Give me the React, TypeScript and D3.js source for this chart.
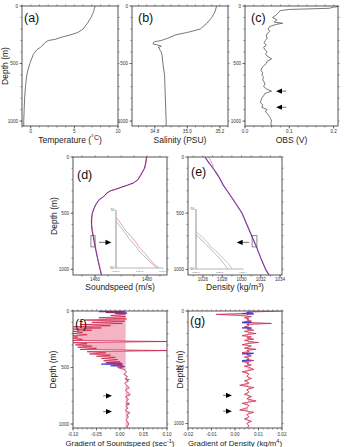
import React from 'react'
import * as d3 from 'd3'

// ---- profile data (depth in m) ----
const DEPTH_T = [0, 20, 50, 100, 150, 200, 230, 250, 270, 290, 300, 320, 340, 360, 380, 420, 460, 500, 550, 600, 700, 800, 900, 1000, 1045]
const TEMP = [7.4, 7.3, 7.2, 6.9, 6.5, 6.0, 5.4, 4.6, 3.6, 2.8, 2.0, 1.6, 1.4, 1.1, 0.7, 0.3, 0.1, -0.1, -0.3, -0.45, -0.6, -0.7, -0.75, -0.8, -0.8]

const DEPTH_S = [0, 50, 100, 150, 200, 230, 250, 280, 300, 310, 320, 330, 340, 350, 360, 370, 380, 400, 430, 500, 600, 800, 1000, 1045]
const SAL = [35.18, 35.17, 35.15, 35.12, 35.08, 35.0, 34.93, 34.88, 34.84, 34.8, 34.79, 34.79, 34.82, 34.84, 34.82, 34.83, 34.83, 34.84, 34.845, 34.85, 34.86, 34.865, 34.87, 34.87]

const DEPTH_OBS = [0, 5, 10, 20, 30, 40, 60, 80, 100, 120, 140, 150, 160, 180, 200, 220, 240, 260, 280, 300, 320, 340, 360, 380, 400, 420, 440, 460, 480, 500, 520, 540, 560, 580, 600, 620, 640, 660, 680, 700, 720, 740, 760, 780, 800, 820, 840, 860, 880, 900, 920, 940, 960, 980, 1000, 1020, 1045]
const OBS = [0.205, 0.21, 0.2, 0.19, 0.1, 0.08, 0.075, 0.07, 0.062, 0.072, 0.066, 0.085, 0.07, 0.055, 0.052, 0.056, 0.05, 0.048, 0.05, 0.046, 0.043, 0.048, 0.042, 0.045, 0.05, 0.046, 0.052, 0.06, 0.05, 0.048, 0.042, 0.038, 0.036, 0.04, 0.038, 0.042, 0.04, 0.043, 0.045, 0.042, 0.048, 0.06, 0.045, 0.042, 0.038, 0.036, 0.035, 0.04, 0.038, 0.05, 0.046, 0.052, 0.055, 0.058, 0.06, 0.058, 0.062]

const DEPTH_C = [0, 50, 100, 150, 200, 230, 250, 270, 290, 300, 320, 340, 360, 380, 420, 460, 500, 550, 600, 650, 700, 800, 900, 1000, 1050]
const SOUND = [1479.8, 1479.5, 1479.0, 1477.8, 1476.5, 1474.8, 1472.5, 1470.0, 1467.5, 1466.0, 1464.5, 1463.8, 1462.8, 1461.5, 1460.3, 1459.5, 1458.9, 1458.6, 1458.6, 1458.8, 1459.2, 1460.0, 1460.9, 1461.9, 1462.4]

const DEPTH_D = [0, 50, 100, 150, 200, 250, 300, 400, 500, 600, 700, 800, 900, 1000, 1050]
const DENS = [1026.2, 1026.6, 1027.05, 1027.45, 1027.8, 1028.1, 1028.5, 1029.3, 1030.05, 1030.55, 1031.05, 1031.55, 1032.0, 1032.5, 1032.85]
const DEPTH_D_TOP = [0, 30, 60, 90]
const DENS_RED_TOP = [1026.6, 1026.8, 1026.95, 1027.1]

// zoom boxes and inset profiles
const ZOOM_DEPTH = [700, 800]
const ZOOM_C = [1458.4, 1460.0]
const ZOOM_D = [1031.1, 1031.6]
const INSET_C_X = [1459.0, 1459.6]
const INSET_C_TICKS = [1459.0, 1459.3, 1459.6]
const IC_RED_DEPTH = [714, 725, 735, 745, 755, 765, 775, 785, 795, 800]
const IC_RED = [1459.01, 1459.07, 1459.12, 1459.19, 1459.25, 1459.3, 1459.37, 1459.43, 1459.5, 1459.55]
const IC_GRAY_DEPTH = [721, 730, 740, 750, 760, 770, 780, 790, 800]
const IC_GRAY = [1459.01, 1459.06, 1459.12, 1459.17, 1459.24, 1459.29, 1459.36, 1459.44, 1459.52]
const INSET_D_X = [1031.0, 1031.4]
const INSET_D_TICKS = [1031.0, 1031.2, 1031.4]
const ID_RED_DEPTH = [738, 746, 756, 762, 770, 780, 790, 800]
const ID_RED = [1031.0, 1031.05, 1031.1, 1031.12, 1031.17, 1031.22, 1031.27, 1031.31]
const ID_BLUE_DEPTH = [743, 752, 762, 772, 782, 792, 800]
const ID_BLUE = [1031.0, 1031.05, 1031.1, 1031.15, 1031.2, 1031.24, 1031.27]

// gradients
const DEPTH_G = [0, 10, 20, 30, 40, 50, 60, 70, 80, 90, 100, 110, 120, 130, 140, 150, 160, 170, 180, 190, 200, 210, 220, 230, 240, 250, 260, 270, 280, 290, 300, 310, 320, 330, 340, 350, 360, 370, 380, 390, 400, 410, 420, 430, 440, 450, 460, 470, 480, 490, 500, 520, 540, 560, 580, 600, 620, 640, 660, 680, 700, 720, 740, 760, 780, 800, 820, 840, 860, 880, 900, 920, 940, 960, 980, 1000, 1020, 1040]
const GRAD_C = [0.012, -0.03, 0.015, 0.005, -0.02, 0.012, -0.045, 0.014, -0.075, 0.01, -0.06, 0.005, -0.085, -0.02, -0.1, -0.04, -0.1, -0.06, -0.1, -0.08, -0.1, -0.07, -0.1, -0.09, -0.1, -0.08, -0.1, 0.1, -0.1, -0.07, -0.095, -0.06, -0.09, -0.05, -0.085, 0.1, -0.07, -0.03, -0.065, -0.02, -0.05, -0.01, -0.04, -0.005, -0.035, 0.0, -0.03, 0.005, -0.015, 0.008, -0.005, 0.01, 0.014, 0.008, 0.016, 0.012, 0.018, 0.01, 0.015, 0.02, 0.011, 0.017, 0.022, 0.012, 0.018, 0.014, 0.02, 0.013, 0.017, 0.011, 0.021, 0.015, 0.018, 0.013, 0.016, 0.019, 0.015, 0.017]
const GRAD_D = [0.02, 0.005, 0.006, -0.008, 0.002, 0.007, 0.004, 0.006, 0.005, 0.007, 0.003, 0.0155, 0.005, 0.006, 0.004, 0.007, 0.005, 0.008, 0.004, 0.006, 0.009, 0.005, 0.003, 0.007, 0.005, 0.008, 0.004, 0.006, 0.01, 0.005, 0.003, 0.007, 0.006, 0.004, 0.009, 0.005, 0.006, 0.003, 0.006, 0.005, 0.007, 0.004, 0.006, 0.005, 0.008, 0.003, 0.006, 0.005, 0.007, 0.004, 0.006, 0.008, 0.003, 0.006, 0.005, 0.007, 0.004, 0.006, 0.002, 0.008, 0.005, 0.006, 0.004, 0.007, 0.005, 0.009, 0.003, 0.006, 0.005, 0.002, 0.008, 0.005, 0.006, 0.004, 0.007, 0.005, 0.006, 0.005]
const GRAD_C_MEAN = 0.012
const GRAD_D_MEAN = 0.0055
const BLUE_C_DEPTH = [2, 6, 10, 14, 18, 22, 26, 30, 455, 462, 470, 478, 485, 492, 500, 505, 600, 608, 616, 820, 828, 836]
const BLUE_C = [0.008, -0.045, 0.01, -0.03, 0.014, -0.01, 0.012, null, -0.03, 0.004, -0.04, 0.006, -0.02, 0.01, 0.0, null, 0.01, 0.02, null, 0.012, 0.02, null]
const BLUE_D_DEPTH = [14, 18, 22, 26, 30, 34, 96, 100, 104, 108, 112, 146, 150, 154, 158, 372, 376, 380, 384, 388, 436, 440, 444, 448]
const BLUE_D = [0.005, 0.0075, 0.003, 0.008, 0.005, null, 0.004, 0.007, 0.003, 0.006, null, 0.006, 0.003, 0.007, null, 0.005, 0.008, 0.003, 0.007, null, 0.006, 0.003, 0.007, null]

const ARROW_DEPTHS = [740, 880]
const ARROW_DEPTHS_G = [750, 890]

const FONT = "'Liberation Sans', Arial, Helvetica, sans-serif"
const RED = '#c8163c'
const PINK = '#f2a7ba'
const BLUE = '#3b3bd6'
const AX = '#444'

type Sc = d3.ScaleLinear<number, number>

function profile(x: Sc, y: Sc, depth: number[], vals: (number | null)[]) {
  const pts = depth.map((d, i) => [d, vals[i]] as [number, number | null])
  return d3.line<[number, number | null]>()
    .defined(p => p[1] != null)
    .x(p => x(p[1] as number))
    .y(p => y(p[0]))(pts) || ''
}

function band(x: Sc, y: Sc, depth: number[], vals: number[], mean: number) {
  const pts = depth.map((d, i) => [d, vals[i]] as [number, number])
  return d3.area<[number, number]>()
    .y(p => y(p[0]))
    .x0(() => x(mean))
    .x1(p => x(p[1]))(pts) || ''
}

function Arrow({ x1, x2, y }: { x1: number; x2: number; y: number }) {
  // x1 = tail, x2 = tip
  const dir = x2 > x1 ? 1 : -1
  const base = x2 - dir * 6
  return (
    <g>
      <line x1={x1} x2={base} y1={y} y2={y} stroke="#888" strokeWidth={1.2} />
      <path d={`M${x2},${y} L${base},${y - 2.6} L${base},${y + 2.6} Z`} fill="#000" />
    </g>
  )
}

type PanelProps = {
  id: string
  x0: number; x1: number; y0: number; y1: number
  xDomain: [number, number]
  depthMax: number
  xTicks: number[]
  xStep: number
  xFmt: (v: number) => string
  tickDy: number
  tag: string
  tagX: number
  tagY: number
  title: React.ReactNode
  titleY: number
  titleSize: number
  depthX?: number
  render: (x: Sc, y: Sc) => React.ReactNode
  overlay?: (x: Sc, y: Sc) => React.ReactNode
}

function Panel(p: PanelProps) {
  const x = d3.scaleLinear().domain(p.xDomain).range([p.x0, p.x1])
  const y = d3.scaleLinear().domain([0, p.depthMax]).range([p.y0, p.y1])
  const minorX = d3.range(Math.ceil(p.xDomain[0] / p.xStep - 1e-6), Math.floor(p.xDomain[1] / p.xStep + 1e-6) + 1).map(k => k * p.xStep)
  const minorY = d3.range(0, p.depthMax + 1, 100)
  const yTicks = [0, 500, 1000]
  return (
    <g>
      <defs>
        <clipPath id={p.id}>
          <rect x={p.x0} y={p.y0} width={p.x1 - p.x0} height={p.y1 - p.y0} />
        </clipPath>
      </defs>
      <g clipPath={`url(#${p.id})`}>{p.render(x, y)}</g>
      <rect x={p.x0} y={p.y0} width={p.x1 - p.x0} height={p.y1 - p.y0} fill="none" stroke={AX} strokeWidth={0.9} />
      {minorX.map((v, i) => (
        <g key={'mx' + i} stroke={AX} strokeWidth={0.6}>
          <line x1={x(v)} x2={x(v)} y1={p.y1} y2={p.y1 + 1.5} />
          <line x1={x(v)} x2={x(v)} y1={p.y0} y2={p.y0 - 1.5} />
        </g>
      ))}
      {minorY.map((v, i) => (
        <g key={'my' + i} stroke={AX} strokeWidth={0.6}>
          <line x1={p.x0} x2={p.x0 - 1.5} y1={y(v)} y2={y(v)} />
          <line x1={p.x1} x2={p.x1 + 1.5} y1={y(v)} y2={y(v)} />
        </g>
      ))}
      {p.xTicks.map((v, i) => (
        <g key={'xt' + i}>
          <line x1={x(v)} x2={x(v)} y1={p.y1} y2={p.y1 + 2.5} stroke={AX} strokeWidth={0.7} />
          <text x={x(v)} y={p.y1 + p.tickDy} fontSize={4.6} textAnchor="middle" fill="#333">{p.xFmt(v)}</text>
        </g>
      ))}
      {yTicks.map((v, i) => (
        <g key={'yt' + i}>
          <line x1={p.x0} x2={p.x0 - 2.5} y1={y(v)} y2={y(v)} stroke={AX} strokeWidth={0.7} />
          <text x={p.x0 - 4} y={y(v) + 1.6} fontSize={4.6} textAnchor="end" fill="#333">{v}</text>
        </g>
      ))}
      {p.overlay && p.overlay(x, y)}
      <text x={p.tagX} y={p.tagY} fontSize={12.5} fill="#111">{p.tag}</text>
      <text x={(p.x0 + p.x1) / 2} y={p.titleY} fontSize={p.titleSize} textAnchor="middle" fill="#222">{p.title}</text>
      {p.depthX != null && (
        <text transform={`translate(${p.depthX},${(p.y0 + p.y1) / 2}) rotate(-90)`} fontSize={8.5} textAnchor="middle" fill="#222">Depth (m)</text>
      )}
    </g>
  )
}

function Inset({ x0, x1, y0, y1, xDomain, xTicks, lines }: {
  x0: number; x1: number; y0: number; y1: number
  xDomain: number[]; xTicks: number[]
  lines: { depth: number[]; vals: number[]; color: string }[]
}) {
  const x = d3.scaleLinear().domain(xDomain).range([x0, x1])
  const y = d3.scaleLinear().domain(ZOOM_DEPTH).range([y0, y1])
  return (
    <g>
      <line x1={x0} x2={x0} y1={y0} y2={y1} stroke="#bbb" strokeWidth={1.6} />
      <line x1={x0} x2={x1} y1={y1} y2={y1} stroke="#888" strokeWidth={0.6} />
      {ZOOM_DEPTH.map(v => (
        <text key={v} x={x0 - 1.5} y={y(v) + 1} fontSize={2.6} textAnchor="end" fill="#666">{v}</text>
      ))}
      {xTicks.map(v => (
        <g key={v}>
          <line x1={x(v)} x2={x(v)} y1={y1} y2={y1 + 1} stroke="#888" strokeWidth={0.4} />
          <text x={x(v)} y={y1 + 3.6} fontSize={2.4} textAnchor="middle" fill="#666">{v.toFixed(1)}</text>
        </g>
      ))}
      {lines.map((l, i) => (
        <path key={i} d={profile(x, y, l.depth, l.vals)} fill="none" stroke={l.color} strokeWidth={0.6} />
      ))}
    </g>
  )
}

export default function App() {
  return (
    <svg width={344} height={447} style={{ position: 'absolute', left: 0, top: 0, fontFamily: FONT, background: '#fff' }}>
      <rect width={344} height={447} fill="#fff" />
      {/* (a) temperature */}
      <Panel id="ca" x0={22} x1={118} y0={6} y1={126} xDomain={[-1, 10]} depthMax={1043}
        xTicks={[0, 5, 10]} xStep={1} xFmt={v => String(v)} tickDy={7} tag="(a)" tagX={24} tagY={22}
        title={<>Temperature (<tspan dy={-3} fontSize={7}>°C</tspan><tspan dy={3}>)</tspan></>} titleY={143} titleSize={8.5} depthX={7.5}
        render={(x, y) => <path d={profile(x, y, DEPTH_T, TEMP)} fill="none" stroke="#555" strokeWidth={0.8} />} />
      {/* (b) salinity */}
      <Panel id="cb" x0={132} x1={228} y0={6} y1={126} xDomain={[34.66, 35.25]} depthMax={1043}
        xTicks={[34.8, 35.0, 35.2]} xStep={0.05} xFmt={v => v.toFixed(1)} tickDy={7} tag="(b)" tagX={138} tagY={22}
        title="Salinity (PSU)" titleY={143} titleSize={8.5}
        render={(x, y) => <path d={profile(x, y, DEPTH_S, SAL)} fill="none" stroke="#555" strokeWidth={0.8} />} />
      {/* (c) OBS */}
      <Panel id="cc" x0={245} x1={338} y0={6} y1={126} xDomain={[0, 0.21]} depthMax={1043}
        xTicks={[0, 0.1, 0.2]} xStep={0.02} xFmt={v => v.toFixed(1)} tickDy={7} tag="(c)" tagX={251} tagY={22}
        title="OBS (V)" titleY={143} titleSize={8.5}
        render={(x, y) => <path d={profile(x, y, DEPTH_OBS, OBS)} fill="none" stroke="#555" strokeWidth={0.8} />}
        overlay={(x, y) => ARROW_DEPTHS.map(d => <Arrow key={d} x1={x(0.093)} x2={x(0.07)} y={y(d)} />)} />
      {/* (d) soundspeed */}
      <Panel id="cd" x0={73} x1={167} y0={157} y1={275} xDomain={[1451.5, 1487.7]} depthMax={1050}
        xTicks={[1460, 1480]} xStep={5} xFmt={v => String(v)} tickDy={6} tag="(d)" tagX={77} tagY={179}
        title="Soundspeed (m/s)" titleY={290} titleSize={8.5} depthX={57}
        render={(x, y) => (
          <g>
            <path d={profile(x, y, DEPTH_C, SOUND)} fill="none" stroke="#5a3cc0" strokeWidth={1} />
            <path d={profile(x, y, DEPTH_C, SOUND)} fill="none" stroke={RED} strokeWidth={0.8} opacity={0.7} transform="translate(0.4,0)" />
          </g>
        )}
        overlay={(x, y) => (
          <g>
            <rect x={x(ZOOM_C[0])} y={y(ZOOM_DEPTH[0])} width={x(ZOOM_C[1]) - x(ZOOM_C[0])} height={y(ZOOM_DEPTH[1]) - y(ZOOM_DEPTH[0])} fill="none" stroke="#555" strokeWidth={0.7} />
            <Arrow x1={x(1461.5)} x2={x(1466.3)} y={y(760)} />
            <Inset x0={116} x1={163} y0={210} y1={268} xDomain={INSET_C_X} xTicks={INSET_C_TICKS}
              lines={[{ depth: IC_GRAY_DEPTH, vals: IC_GRAY, color: '#9090a8' }, { depth: IC_RED_DEPTH, vals: IC_RED, color: '#d9607a' }]} />
          </g>
        )} />
      {/* (e) density */}
      <Panel id="ce" x0={188} x1={282} y0={157} y1={275} xDomain={[1024.45, 1034.2]} depthMax={1050}
        xTicks={[1026, 1028, 1030, 1032, 1034]} xStep={1} xFmt={v => String(v)} tickDy={6} tag="(e)" tagX={191} tagY={176}
        title={<>Density (kg/m<tspan dy={-3} fontSize={5.5}>3</tspan><tspan dy={3}>)</tspan></>} titleY={290} titleSize={8.5}
        render={(x, y) => (
          <g>
            <path d={profile(x, y, DEPTH_D_TOP, DENS_RED_TOP)} fill="none" stroke={RED} strokeWidth={0.6} opacity={0.7} />
            <path d={profile(x, y, DEPTH_D, DENS)} fill="none" stroke="#6a3ab8" strokeWidth={1.1} />
            <path d={profile(x, y, DEPTH_D, DENS)} fill="none" stroke={RED} strokeWidth={0.6} opacity={0.5} transform="translate(0.3,0)" />
          </g>
        )}
        overlay={(x, y) => (
          <g>
            <rect x={x(ZOOM_D[0])} y={y(ZOOM_DEPTH[0])} width={x(ZOOM_D[1]) - x(ZOOM_D[0])} height={y(ZOOM_DEPTH[1]) - y(ZOOM_DEPTH[0])} fill="none" stroke="#555" strokeWidth={0.7} />
            <Arrow x1={x(1030.8)} x2={x(1029.5)} y={y(760)} />
            <Inset x0={196} x1={243} y0={209} y1={269} xDomain={INSET_D_X} xTicks={INSET_D_TICKS}
              lines={[{ depth: ID_BLUE_DEPTH, vals: ID_BLUE, color: '#8a8ab0' }, { depth: ID_RED_DEPTH, vals: ID_RED, color: '#c88aa0' }]} />
          </g>
        )} />
      {/* (f) gradient of soundspeed */}
      <Panel id="cf" x0={73} x1={167} y0={311} y1={428} xDomain={[-0.1, 0.1]} depthMax={1035}
        xTicks={[-0.1, -0.05, 0, 0.05, 0.1]} xStep={0.01} xFmt={v => v.toFixed(2)} tickDy={8} tag="(f)" tagX={75} tagY={328}
        title={<>Gradient of Soundspeed (sec<tspan dy={-3} fontSize={5.5}>-1</tspan><tspan dy={3}>)</tspan></>} titleY={446} titleSize={7.8} depthX={56}
        render={(x, y) => (
          <g>
            <path d={band(x, y, DEPTH_G, GRAD_C, GRAD_C_MEAN)} fill={PINK} opacity={0.85} />
            <path d={profile(x, y, BLUE_C_DEPTH, BLUE_C)} fill="none" stroke={BLUE} strokeWidth={0.8} />
            <path d={profile(x, y, DEPTH_G, GRAD_C)} fill="none" stroke={RED} strokeWidth={0.7} />
          </g>
        )}
        overlay={(x, y) => ARROW_DEPTHS_G.map(d => <Arrow key={d} x1={x(-0.036)} x2={x(-0.017)} y={y(d)} />)} />
      {/* (g) gradient of density */}
      <Panel id="cg" x0={188} x1={282} y0={311} y1={428} xDomain={[-0.02, 0.02]} depthMax={1040}
        xTicks={[-0.02, -0.01, 0, 0.01, 0.02]} xStep={0.002} xFmt={v => v.toFixed(2)} tickDy={8} tag="(g)" tagX={190} tagY={325}
        title={<>Gradient of Density (kg/m<tspan dy={-3} fontSize={5.5}>4</tspan><tspan dy={3}>)</tspan></>} titleY={446} titleSize={7.8} depthX={183}
        render={(x, y) => (
          <g>
            <path d={band(x, y, DEPTH_G, GRAD_D, GRAD_D_MEAN)} fill={PINK} opacity={0.85} />
            <path d={profile(x, y, DEPTH_G, GRAD_D)} fill="none" stroke={RED} strokeWidth={0.7} />
            <path d={profile(x, y, BLUE_D_DEPTH, BLUE_D)} fill="none" stroke={BLUE} strokeWidth={0.9} />
          </g>
        )}
        overlay={(x, y) => ARROW_DEPTHS_G.map(d => <Arrow key={d} x1={x(-0.0051)} x2={x(-0.0013)} y={y(d)} />)} />
    </svg>
  )
}
